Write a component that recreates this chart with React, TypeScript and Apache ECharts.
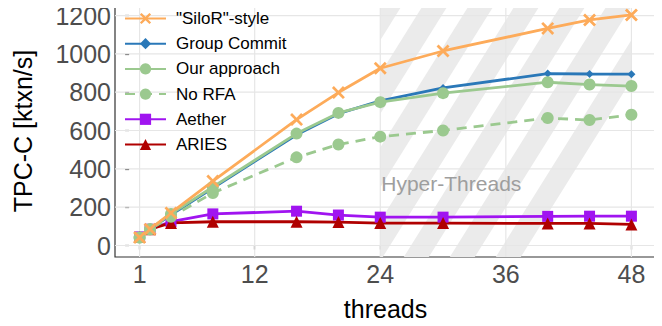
import React, { useEffect, useRef } from "react";
import * as echarts from "echarts";

const THREADS = [1, 2, 4, 8, 16, 20, 24, 30, 40, 44, 48];
const SILOR = [42, 85, 170, 336, 657, 798, 925, 1015, 1133, 1177, 1203];
const GROUP_COMMIT = [42, 85, 160, 300, 578, 688, 755, 822, 897, 895, 894];
const OUR_APPROACH = [42, 85, 165, 305, 584, 692, 748, 795, 852, 840, 832];
const NO_RFA = [42, 85, 150, 274, 460, 527, 568, 600, 665, 655, 682];
const AETHER = [45, 85, 125, 165, 179, 159, 148, 148, 152, 153, 153];
const ARIES = [45, 85, 118, 124, 124, 122, 117, 117, 115, 115, 110];

const X_TICKS = [1, 12, 24, 36, 48];
const Y_TICKS = [0, 200, 400, 600, 800, 1000, 1200];
const HT_START = 24;
const HT_END = 48;
const HT_LABEL = "Hyper-Threads";
const HT_LABEL_Y = 326;

const FONT = "'Liberation Sans', Arial, Helvetica, sans-serif";

function clipHalf(pts: number[][], k: number, sign: number): number[][] {
  const out: number[][] = [];
  for (let i = 0; i < pts.length; i++) {
    const a = pts[i];
    const b = pts[(i + 1) % pts.length];
    const ina = sign * (a[0] - k) >= 0;
    const inb = sign * (b[0] - k) >= 0;
    if (ina) out.push(a);
    if (ina !== inb) {
      const t = (k - a[0]) / (b[0] - a[0]);
      out.push([k, a[1] + t * (b[1] - a[1])]);
    }
  }
  return out;
}

const pairs = (vals: number[]) => THREADS.map((x, i) => [x, vals[i]]);

export default function App() {
  const ref = useRef<HTMLDivElement>(null);
  useEffect(() => {
    if (!ref.current) return;
    const chart = echarts.init(ref.current, null, { renderer: "svg" });
    const lineSeries = (
      name: string,
      vals: number[],
      color: string,
      symbol: string,
      symbolSize: number,
      dashed = false
    ) => ({
      name,
      type: "line",
      data: pairs(vals),
      z: 3,
      symbol,
      symbolSize,
      showAllSymbol: true,
      lineStyle: { color, width: 2.8, type: dashed ? [10, 7] : "solid" },
      itemStyle: { color, borderWidth: 0 },
      emphasis: { disabled: true },
    });
    const XPATH =
      "path://M1.5,0 L5,3.5 L8.5,0 L10,1.5 L6.5,5 L10,8.5 L8.5,10 L5,6.5 L1.5,10 L0,8.5 L3.5,5 L0,1.5 Z";
    const option: any = {
      animation: false,
      textStyle: { fontFamily: FONT },
      grid: {
        left: 115,
        right: 6,
        top: 5,
        bottom: 67,
        show: true,
        borderColor: "#333333",
        borderWidth: 1.2,
        backgroundColor: "#ffffff",
      },
      xAxis: {
        type: "value",
        min: -1.35,
        max: 50.35,
        name: "threads",
        nameLocation: "middle",
        nameGap: 39,
        nameTextStyle: { color: "#000", fontSize: 25, fontFamily: FONT },
        axisLine: { show: false },
        axisTick: {
          show: true,
          customValues: X_TICKS,
          length: 4,
          lineStyle: { color: "#333333", width: 1.2 },
        },
        axisLabel: {
          customValues: X_TICKS,
          formatter: (v: number) => String(v),
          color: "#4d4d4d",
          fontSize: 25,
          margin: 4,
          fontFamily: FONT,
        },
        splitLine: { show: false },
      },
      yAxis: {
        type: "value",
        min: -60,
        max: 1255,
        name: "TPC-C [ktxn/s]",
        nameLocation: "middle",
        nameGap: 80,
        nameTextStyle: { color: "#000", fontSize: 25, fontFamily: FONT },
        axisLine: { show: false },
        axisTick: {
          show: true,
          customValues: Y_TICKS,
          length: 4,
          lineStyle: { color: "#333333", width: 1.2 },
        },
        axisLabel: {
          customValues: Y_TICKS,
          formatter: (v: number) => String(v),
          color: "#4d4d4d",
          fontSize: 25,
          margin: 4,
          fontFamily: FONT,
        },
        splitLine: { show: false },
      },
      legend: {
        orient: "vertical",
        left: 119,
        top: 5,
        itemWidth: 41,
        itemHeight: 14,
        itemGap: 8.2,
        data: ['"SiloR"-style', "Group Commit", "Our approach", "No RFA", "Aether", "ARIES"],
        textStyle: { color: "#000", fontSize: 17, fontFamily: FONT, padding: [0, 0, 0, 5] },
        selectedMode: false,
      },
      series: [
        {
          type: "custom",
          name: "bg",
          z: 1,
          silent: true,
          clip: false,
          data: [[HT_START, 0]],
          renderItem: (params: any, api: any) => {
            const cs = params.coordSys;
            const left = cs.x;
            const top = cs.y;
            const right = cs.x + cs.width;
            const bottom = cs.y + cs.height;
            const hx0 = api.coord([HT_START, 0])[0];
            const hx1 = api.coord([HT_END, 0])[0];
            const children: any[] = [];
            const P = 46;
            const G = 25;
            const s = 1 / Math.tan((58 * Math.PI) / 180);
            const h = bottom - top;
            const start = hx0 + 43 - P * 4;
            for (let c = start; c < hx1 + P; c += P) {
              const poly = [
                [c, top],
                [c + G, top],
                [c + G - s * h, bottom],
                [c - s * h, bottom],
              ];
              const cl = clipHalf(clipHalf(poly, hx0, 1), hx1, -1);
              if (cl.length >= 3) {
                children.push({
                  type: "polygon",
                  shape: { points: cl },
                  style: { fill: "#ebebeb" },
                });
              }
            }
            for (const xv of X_TICKS) {
              const px = api.coord([xv, 0])[0];
              children.push({
                type: "line",
                shape: { x1: px, y1: top, x2: px, y2: bottom },
                style: { stroke: "#e6e6e6", lineWidth: 1.2 },
              });
            }
            for (const yv of Y_TICKS) {
              const py = api.coord([0, yv])[1];
              children.push({
                type: "line",
                shape: { x1: left, y1: py, x2: right, y2: py },
                style: { stroke: "#e6e6e6", lineWidth: 1.2 },
              });
            }
            const tp = api.coord([HT_START, HT_LABEL_Y]);
            children.push({
              type: "text",
              x: tp[0] + 1,
              y: tp[1],
              style: {
                text: HT_LABEL,
                fill: "#9e9e9e",
                fontSize: 21,
                fontFamily: FONT,
                verticalAlign: "middle",
                align: "left",
              },
            });
            return { type: "group", children };
          },
        },
        lineSeries("Aether", AETHER, "#a014f0", "rect", 11),
        lineSeries("ARIES", ARIES, "#b00000", "triangle", 12),
        lineSeries("Group Commit", GROUP_COMMIT, "#2a78b8", "diamond", 8),
        lineSeries("No RFA", NO_RFA, "#9bc98f", "circle", 12, true),
        lineSeries("Our approach", OUR_APPROACH, "#9bc98f", "circle", 12),
        lineSeries('"SiloR"-style', SILOR, "#fdab5a", XPATH, 13),
      ],
    };
    chart.setOption(option);
    return () => chart.dispose();
  }, []);
  return <div ref={ref} style={{ width: 662, height: 326, margin: -8 }} />;
}
